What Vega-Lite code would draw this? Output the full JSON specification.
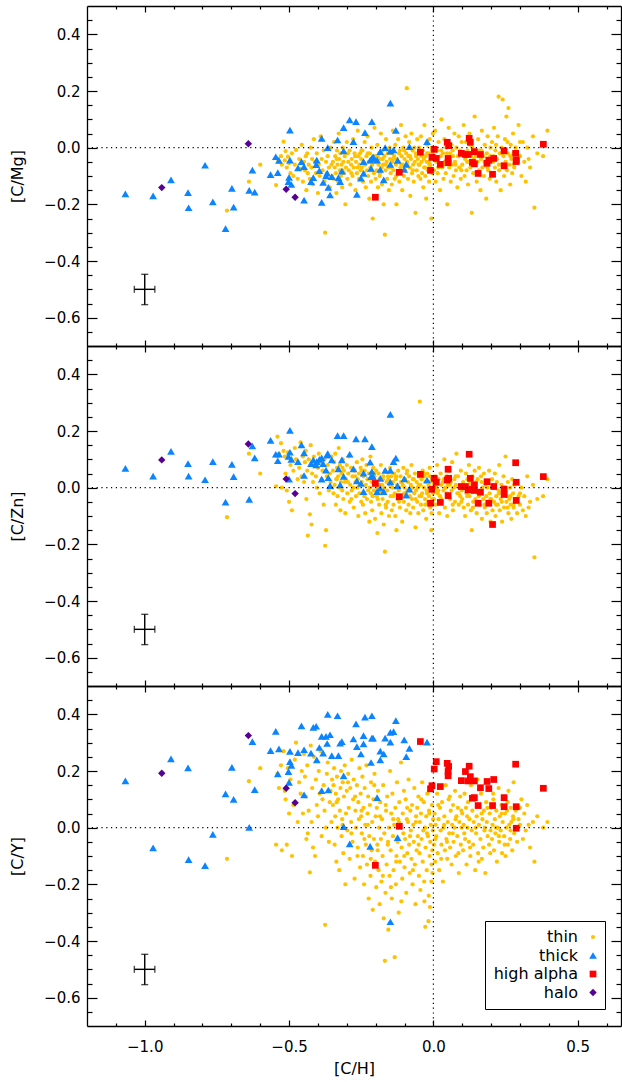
{
"$schema":"https://vega.github.io/schema/vega-lite/v6.json",
"autosize":{"type":"pad"},
"padding":{"left":9,"top":5,"right":1,"bottom":5},
"background":"white",
"datasets":{
"ebar":[{"ex":-1.0,"ey":-0.5,"xlo":-1.036,"xhi":-0.965,"ylo":-0.554,"yhi":-0.447}],
"zero":[{"v":0}],
"stars":[
{"pop":"thin","ch":-0.715,"cmg":-0.222,"czn":-0.104,"cy":-0.110},
{"pop":"thin","ch":-0.639,"cmg":-0.120,"czn":0.120,"cy":0.164},
{"pop":"thin","ch":-0.600,"cmg":-0.060,"czn":0.050,"cy":0.210},
{"pop":"thin","ch":-0.545,"cmg":-0.132,"czn":0.005,"cy":-0.060},
{"pop":"thin","ch":-0.540,"cmg":-0.040,"czn":0.180,"cy":0.190},
{"pop":"thin","ch":-0.535,"cmg":-0.050,"czn":0.120,"cy":0.140},
{"pop":"thin","ch":-0.528,"cmg":-0.030,"czn":0.157,"cy":0.220},
{"pop":"thin","ch":-0.525,"cmg":-0.060,"czn":0.000,"cy":-0.080},
{"pop":"thin","ch":-0.519,"cmg":0.021,"czn":0.130,"cy":0.270},
{"pop":"thin","ch":-0.515,"cmg":-0.045,"czn":0.110,"cy":0.130},
{"pop":"thin","ch":-0.512,"cmg":-0.012,"czn":0.050,"cy":0.100},
{"pop":"thin","ch":-0.508,"cmg":-0.070,"czn":-0.010,"cy":-0.060},
{"pop":"thin","ch":-0.504,"cmg":-0.032,"czn":0.125,"cy":0.210},
{"pop":"thin","ch":-0.500,"cmg":-0.055,"czn":-0.050,"cy":0.050},
{"pop":"thin","ch":-0.495,"cmg":-0.090,"czn":0.080,"cy":0.170},
{"pop":"thin","ch":-0.490,"cmg":-0.020,"czn":-0.080,"cy":-0.100},
{"pop":"thin","ch":-0.485,"cmg":-0.100,"czn":0.060,"cy":0.080},
{"pop":"thin","ch":-0.480,"cmg":-0.060,"czn":0.140,"cy":0.240},
{"pop":"thin","ch":-0.476,"cmg":-0.008,"czn":0.100,"cy":0.300},
{"pop":"thin","ch":-0.470,"cmg":-0.110,"czn":0.030,"cy":0.020},
{"pop":"thin","ch":-0.465,"cmg":-0.040,"czn":0.070,"cy":0.160},
{"pop":"thin","ch":-0.460,"cmg":-0.075,"czn":0.160,"cy":0.120},
{"pop":"thin","ch":-0.456,"cmg":0.010,"czn":0.040,"cy":0.200},
{"pop":"thin","ch":-0.452,"cmg":-0.120,"czn":0.110,"cy":0.050},
{"pop":"thin","ch":-0.448,"cmg":-0.050,"czn":0.020,"cy":0.260},
{"pop":"thin","ch":-0.445,"cmg":-0.080,"czn":0.090,"cy":0.180},
{"pop":"thin","ch":-0.442,"cmg":-0.030,"czn":0.130,"cy":0.110},
{"pop":"thin","ch":-0.440,"cmg":-0.150,"czn":-0.040,"cy":-0.040},
{"pop":"thin","ch":-0.437,"cmg":-0.020,"czn":0.060,"cy":0.220},
{"pop":"thin","ch":-0.435,"cmg":-0.090,"czn":-0.169,"cy":-0.020},
{"pop":"thin","ch":-0.432,"cmg":-0.060,"czn":0.100,"cy":0.060},
{"pop":"thin","ch":-0.428,"cmg":-0.110,"czn":-0.094,"cy":-0.158},
{"pop":"thin","ch":-0.425,"cmg":0.000,"czn":0.150,"cy":0.290},
{"pop":"thin","ch":-0.422,"cmg":-0.070,"czn":-0.130,"cy":0.020},
{"pop":"thin","ch":-0.420,"cmg":-0.040,"czn":0.050,"cy":0.140},
{"pop":"thin","ch":-0.417,"cmg":-0.130,"czn":0.020,"cy":-0.070},
{"pop":"thin","ch":-0.414,"cmg":0.030,"czn":0.110,"cy":0.250},
{"pop":"thin","ch":-0.410,"cmg":-0.050,"czn":0.080,"cy":-0.100},
{"pop":"thin","ch":-0.407,"cmg":-0.090,"czn":0.040,"cy":0.170},
{"pop":"thin","ch":-0.404,"cmg":-0.020,"czn":0.000,"cy":0.080},
{"pop":"thin","ch":-0.400,"cmg":-0.160,"czn":0.070,"cy":0.040},
{"pop":"thin","ch":-0.397,"cmg":-0.060,"czn":0.120,"cy":0.200},
{"pop":"thin","ch":-0.394,"cmg":-0.100,"czn":-0.020,"cy":0.120},
{"pop":"thin","ch":-0.390,"cmg":0.040,"czn":0.090,"cy":0.270},
{"pop":"thin","ch":-0.387,"cmg":-0.040,"czn":0.030,"cy":-0.030},
{"pop":"thin","ch":-0.384,"cmg":-0.080,"czn":0.060,"cy":0.100},
{"pop":"thin","ch":-0.380,"cmg":-0.010,"czn":-0.060,"cy":0.150},
{"pop":"thin","ch":-0.377,"cmg":-0.120,"czn":0.100,"cy":0.060},
{"pop":"thin","ch":-0.375,"cmg":-0.300,"czn":-0.205,"cy":-0.343},
{"pop":"thin","ch":-0.372,"cmg":-0.050,"czn":-0.150,"cy":0.000},
{"pop":"thin","ch":-0.369,"cmg":-0.090,"czn":0.040,"cy":0.190},
{"pop":"thin","ch":-0.366,"cmg":-0.030,"czn":0.080,"cy":0.230},
{"pop":"thin","ch":-0.362,"cmg":-0.070,"czn":-0.010,"cy":-0.050},
{"pop":"thin","ch":-0.359,"cmg":-0.140,"czn":0.050,"cy":0.090},
{"pop":"thin","ch":-0.356,"cmg":0.000,"czn":0.020,"cy":0.130},
{"pop":"thin","ch":-0.353,"cmg":-0.060,"czn":0.110,"cy":0.020},
{"pop":"thin","ch":-0.351,"cmg":-0.100,"czn":0.000,"cy":0.170},
{"pop":"thin","ch":-0.348,"cmg":-0.050,"czn":0.060,"cy":0.080},
{"pop":"thin","ch":-0.346,"cmg":-0.110,"czn":-0.020,"cy":0.150},
{"pop":"thin","ch":-0.344,"cmg":0.020,"czn":0.090,"cy":0.210},
{"pop":"thin","ch":-0.342,"cmg":-0.070,"czn":0.010,"cy":-0.060},
{"pop":"thin","ch":-0.340,"cmg":-0.030,"czn":0.120,"cy":0.040},
{"pop":"thin","ch":-0.338,"cmg":-0.090,"czn":-0.060,"cy":0.120},
{"pop":"thin","ch":-0.336,"cmg":-0.160,"czn":0.030,"cy":-0.120},
{"pop":"thin","ch":-0.334,"cmg":-0.010,"czn":0.070,"cy":0.180},
{"pop":"thin","ch":-0.332,"cmg":-0.060,"czn":-0.030,"cy":0.000},
{"pop":"thin","ch":-0.330,"cmg":-0.120,"czn":0.040,"cy":0.100},
{"pop":"thin","ch":-0.328,"cmg":0.050,"czn":0.140,"cy":0.250},
{"pop":"thin","ch":-0.326,"cmg":-0.040,"czn":0.000,"cy":-0.150},
{"pop":"thin","ch":-0.324,"cmg":-0.080,"czn":0.080,"cy":0.060},
{"pop":"thin","ch":-0.322,"cmg":-0.020,"czn":-0.080,"cy":0.140},
{"pop":"thin","ch":-0.320,"cmg":-0.100,"czn":0.020,"cy":0.200},
{"pop":"thin","ch":-0.318,"cmg":-0.060,"czn":0.050,"cy":-0.030},
{"pop":"thin","ch":-0.316,"cmg":-0.140,"czn":-0.010,"cy":0.030},
{"pop":"thin","ch":-0.314,"cmg":0.000,"czn":0.100,"cy":0.160},
{"pop":"thin","ch":-0.312,"cmg":-0.050,"czn":-0.040,"cy":-0.090},
{"pop":"thin","ch":-0.310,"cmg":-0.090,"czn":0.060,"cy":0.110},
{"pop":"thin","ch":-0.307,"cmg":-0.030,"czn":0.020,"cy":0.220},
{"pop":"thin","ch":-0.305,"cmg":-0.200,"czn":-0.090,"cy":-0.200},
{"pop":"thin","ch":-0.303,"cmg":-0.070,"czn":0.030,"cy":0.050},
{"pop":"thin","ch":-0.300,"cmg":0.020,"czn":0.080,"cy":0.130},
{"pop":"thin","ch":-0.298,"cmg":-0.110,"czn":-0.020,"cy":-0.010},
{"pop":"thin","ch":-0.295,"cmg":-0.050,"czn":0.050,"cy":0.190},
{"pop":"thin","ch":-0.293,"cmg":-0.080,"czn":0.110,"cy":0.070},
{"pop":"thin","ch":-0.290,"cmg":-0.010,"czn":-0.050,"cy":-0.110},
{"pop":"thin","ch":-0.288,"cmg":-0.130,"czn":0.010,"cy":0.140},
{"pop":"thin","ch":-0.285,"cmg":-0.060,"czn":0.070,"cy":0.020},
{"pop":"thin","ch":-0.283,"cmg":-0.040,"czn":-0.010,"cy":0.240},
{"pop":"thin","ch":-0.280,"cmg":-0.100,"czn":0.040,"cy":-0.050},
{"pop":"thin","ch":-0.278,"cmg":0.030,"czn":0.000,"cy":0.100},
{"pop":"thin","ch":-0.276,"cmg":-0.070,"czn":-0.070,"cy":0.170},
{"pop":"thin","ch":-0.273,"cmg":-0.020,"czn":0.060,"cy":-0.180},
{"pop":"thin","ch":-0.270,"cmg":-0.150,"czn":0.020,"cy":0.060},
{"pop":"thin","ch":-0.268,"cmg":-0.050,"czn":-0.030,"cy":0.000},
{"pop":"thin","ch":-0.265,"cmg":-0.090,"czn":0.090,"cy":0.150},
{"pop":"thin","ch":-0.262,"cmg":0.060,"czn":0.030,"cy":-0.070},
{"pop":"thin","ch":-0.260,"cmg":-0.030,"czn":-0.100,"cy":0.090},
{"pop":"thin","ch":-0.258,"cmg":-0.110,"czn":0.050,"cy":0.030},
{"pop":"thin","ch":-0.256,"cmg":-0.060,"czn":-0.020,"cy":0.210},
{"pop":"thin","ch":-0.254,"cmg":-0.020,"czn":0.010,"cy":-0.140},
{"pop":"thin","ch":-0.252,"cmg":-0.080,"czn":0.070,"cy":0.120},
{"pop":"thin","ch":-0.250,"cmg":-0.040,"czn":-0.050,"cy":0.040},
{"pop":"thin","ch":-0.248,"cmg":-0.070,"czn":0.020,"cy":-0.020},
{"pop":"thin","ch":-0.246,"cmg":-0.010,"czn":0.100,"cy":0.180},
{"pop":"thin","ch":-0.244,"cmg":-0.120,"czn":-0.060,"cy":-0.100},
{"pop":"thin","ch":-0.242,"cmg":-0.050,"czn":0.040,"cy":0.070},
{"pop":"thin","ch":-0.240,"cmg":-0.090,"czn":-0.020,"cy":-0.200},
{"pop":"thin","ch":-0.238,"cmg":0.020,"czn":0.060,"cy":0.140},
{"pop":"thin","ch":-0.236,"cmg":-0.060,"czn":-0.090,"cy":0.010},
{"pop":"thin","ch":-0.234,"cmg":-0.140,"czn":0.010,"cy":-0.060},
{"pop":"thin","ch":-0.232,"cmg":-0.030,"czn":0.080,"cy":0.220},
{"pop":"thin","ch":-0.230,"cmg":-0.080,"czn":-0.040,"cy":-0.130},
{"pop":"thin","ch":-0.228,"cmg":0.040,"czn":0.030,"cy":0.050},
{"pop":"thin","ch":-0.226,"cmg":-0.100,"czn":-0.010,"cy":0.110},
{"pop":"thin","ch":-0.224,"cmg":-0.050,"czn":0.050,"cy":-0.250},
{"pop":"thin","ch":-0.222,"cmg":-0.180,"czn":-0.120,"cy":-0.030},
{"pop":"thin","ch":-0.220,"cmg":-0.020,"czn":0.000,"cy":0.080},
{"pop":"thin","ch":-0.218,"cmg":-0.070,"czn":0.110,"cy":-0.170},
{"pop":"thin","ch":-0.216,"cmg":-0.120,"czn":-0.050,"cy":0.160},
{"pop":"thin","ch":-0.214,"cmg":0.000,"czn":0.020,"cy":-0.080},
{"pop":"thin","ch":-0.212,"cmg":-0.060,"czn":-0.080,"cy":0.020},
{"pop":"thin","ch":-0.210,"cmg":-0.250,"czn":-0.030,"cy":-0.290},
{"pop":"thin","ch":-0.208,"cmg":-0.040,"czn":0.070,"cy":0.100},
{"pop":"thin","ch":-0.206,"cmg":-0.090,"czn":-0.010,"cy":-0.040},
{"pop":"thin","ch":-0.204,"cmg":0.070,"czn":0.040,"cy":0.190},
{"pop":"thin","ch":-0.202,"cmg":-0.030,"czn":-0.110,"cy":-0.120},
{"pop":"thin","ch":-0.200,"cmg":-0.110,"czn":0.010,"cy":0.040},
{"pop":"thin","ch":-0.198,"cmg":-0.050,"czn":0.060,"cy":-0.210},
{"pop":"thin","ch":-0.196,"cmg":-0.080,"czn":-0.030,"cy":0.070},
{"pop":"thin","ch":-0.194,"cmg":0.010,"czn":-0.160,"cy":-0.060},
{"pop":"thin","ch":-0.192,"cmg":-0.140,"czn":0.000,"cy":0.130},
{"pop":"thin","ch":-0.190,"cmg":-0.060,"czn":0.050,"cy":-0.150},
{"pop":"thin","ch":-0.188,"cmg":-0.020,"czn":-0.060,"cy":0.000},
{"pop":"thin","ch":-0.186,"cmg":-0.100,"czn":0.030,"cy":-0.270},
{"pop":"thin","ch":-0.184,"cmg":-0.040,"czn":-0.020,"cy":0.090},
{"pop":"thin","ch":-0.182,"cmg":0.050,"czn":0.080,"cy":-0.040},
{"pop":"thin","ch":-0.180,"cmg":-0.070,"czn":-0.090,"cy":-0.190},
{"pop":"thin","ch":-0.178,"cmg":-0.130,"czn":0.010,"cy":0.030},
{"pop":"thin","ch":-0.176,"cmg":-0.010,"czn":-0.040,"cy":-0.100},
{"pop":"thin","ch":-0.174,"cmg":-0.060,"czn":0.040,"cy":0.150},
{"pop":"thin","ch":-0.172,"cmg":-0.200,"czn":-0.130,"cy":-0.320},
{"pop":"thin","ch":-0.170,"cmg":-0.030,"czn":0.000,"cy":-0.020},
{"pop":"thin","ch":-0.168,"cmg":-0.307,"czn":-0.226,"cy":-0.470},
{"pop":"thin","ch":-0.166,"cmg":-0.080,"czn":0.060,"cy":-0.230},
{"pop":"thin","ch":-0.164,"cmg":0.030,"czn":-0.070,"cy":0.060},
{"pop":"thin","ch":-0.162,"cmg":-0.050,"czn":0.020,"cy":-0.130},
{"pop":"thin","ch":-0.160,"cmg":-0.110,"czn":-0.010,"cy":0.110},
{"pop":"thin","ch":-0.158,"cmg":-0.020,"czn":-0.050,"cy":-0.060},
{"pop":"thin","ch":-0.156,"cmg":-0.070,"czn":0.030,"cy":-0.360},
{"pop":"thin","ch":-0.154,"cmg":-0.150,"czn":-0.100,"cy":0.000},
{"pop":"thin","ch":-0.152,"cmg":0.000,"czn":0.010,"cy":-0.170},
{"pop":"thin","ch":-0.150,"cmg":-0.040,"czn":0.070,"cy":0.200},
{"pop":"thin","ch":-0.148,"cmg":-0.090,"czn":-0.030,"cy":-0.080},
{"pop":"thin","ch":-0.146,"cmg":-0.020,"czn":0.040,"cy":0.050},
{"pop":"thin","ch":-0.144,"cmg":-0.130,"czn":-0.080,"cy":-0.250},
{"pop":"thin","ch":-0.142,"cmg":-0.050,"czn":0.000,"cy":0.120},
{"pop":"thin","ch":-0.140,"cmg":0.060,"czn":0.020,"cy":-0.030},
{"pop":"thin","ch":-0.138,"cmg":-0.080,"czn":-0.060,"cy":-0.150},
{"pop":"thin","ch":-0.136,"cmg":-0.030,"czn":0.050,"cy":0.010},
{"pop":"thin","ch":-0.134,"cmg":-0.110,"czn":-0.020,"cy":-0.457},
{"pop":"thin","ch":-0.132,"cmg":0.010,"czn":-0.100,"cy":0.070},
{"pop":"thin","ch":-0.130,"cmg":-0.060,"czn":0.030,"cy":-0.200},
{"pop":"thin","ch":-0.128,"cmg":-0.200,"czn":-0.150,"cy":-0.100},
{"pop":"thin","ch":-0.126,"cmg":-0.040,"czn":0.010,"cy":0.160},
{"pop":"thin","ch":-0.124,"cmg":-0.090,"czn":-0.040,"cy":-0.050},
{"pop":"thin","ch":-0.122,"cmg":0.030,"czn":0.060,"cy":0.030},
{"pop":"thin","ch":-0.120,"cmg":-0.050,"czn":-0.010,"cy":-0.300},
{"pop":"thin","ch":-0.118,"cmg":-0.120,"czn":0.000,"cy":0.090},
{"pop":"thin","ch":-0.116,"cmg":-0.010,"czn":-0.070,"cy":-0.120},
{"pop":"thin","ch":-0.114,"cmg":-0.070,"czn":0.040,"cy":0.000},
{"pop":"thin","ch":-0.112,"cmg":0.080,"czn":0.020,"cy":0.230},
{"pop":"thin","ch":-0.110,"cmg":-0.030,"czn":-0.030,"cy":-0.070},
{"pop":"thin","ch":-0.108,"cmg":-0.150,"czn":-0.120,"cy":-0.180},
{"pop":"thin","ch":-0.106,"cmg":-0.060,"czn":0.010,"cy":0.050},
{"pop":"thin","ch":-0.104,"cmg":0.000,"czn":0.070,"cy":-0.020},
{"pop":"thin","ch":-0.102,"cmg":-0.100,"czn":-0.050,"cy":0.130},
{"pop":"thin","ch":-0.100,"cmg":-0.040,"czn":0.000,"cy":-0.140},
{"pop":"thin","ch":-0.098,"cmg":-0.080,"czn":0.030,"cy":-0.040},
{"pop":"thin","ch":-0.096,"cmg":0.040,"czn":-0.020,"cy":0.100},
{"pop":"thin","ch":-0.094,"cmg":-0.020,"czn":-0.080,"cy":-0.230},
{"pop":"thin","ch":-0.092,"cmg":0.210,"czn":0.050,"cy":0.030},
{"pop":"thin","ch":-0.090,"cmg":-0.060,"czn":-0.010,"cy":-0.090},
{"pop":"thin","ch":-0.088,"cmg":-0.110,"czn":0.020,"cy":0.020},
{"pop":"thin","ch":-0.086,"cmg":-0.030,"czn":-0.060,"cy":0.170},
{"pop":"thin","ch":-0.084,"cmg":0.020,"czn":0.040,"cy":-0.060},
{"pop":"thin","ch":-0.082,"cmg":-0.070,"czn":-0.030,"cy":-0.160},
{"pop":"thin","ch":-0.080,"cmg":-0.170,"czn":-0.090,"cy":0.060},
{"pop":"thin","ch":-0.078,"cmg":-0.040,"czn":0.010,"cy":-0.010},
{"pop":"thin","ch":-0.076,"cmg":0.050,"czn":0.080,"cy":-0.110},
{"pop":"thin","ch":-0.074,"cmg":-0.090,"czn":-0.040,"cy":0.080},
{"pop":"thin","ch":-0.072,"cmg":-0.010,"czn":0.000,"cy":-0.200},
{"pop":"thin","ch":-0.070,"cmg":-0.060,"czn":-0.070,"cy":0.010},
{"pop":"thin","ch":-0.068,"cmg":-0.120,"czn":0.030,"cy":-0.050},
{"pop":"thin","ch":-0.066,"cmg":0.000,"czn":-0.020,"cy":0.140},
{"pop":"thin","ch":-0.064,"cmg":-0.050,"czn":0.050,"cy":-0.130},
{"pop":"thin","ch":-0.062,"cmg":-0.230,"czn":-0.140,"cy":-0.270},
{"pop":"thin","ch":-0.060,"cmg":-0.030,"czn":-0.010,"cy":0.040},
{"pop":"thin","ch":-0.058,"cmg":-0.080,"czn":0.020,"cy":-0.080},
{"pop":"thin","ch":-0.056,"cmg":0.030,"czn":-0.050,"cy":0.070},
{"pop":"thin","ch":-0.054,"cmg":-0.040,"czn":0.000,"cy":-0.030},
{"pop":"thin","ch":-0.052,"cmg":-0.100,"czn":-0.090,"cy":0.110},
{"pop":"thin","ch":-0.050,"cmg":0.000,"czn":0.040,"cy":-0.170},
{"pop":"thin","ch":-0.048,"cmg":-0.060,"czn":-0.030,"cy":-0.090},
{"pop":"thin","ch":-0.047,"cmg":-0.020,"czn":0.304,"cy":0.020},
{"pop":"thin","ch":-0.045,"cmg":-0.110,"czn":0.010,"cy":-0.220},
{"pop":"thin","ch":-0.043,"cmg":0.040,"czn":-0.060,"cy":0.050},
{"pop":"thin","ch":-0.041,"cmg":-0.050,"czn":0.030,"cy":-0.040},
{"pop":"thin","ch":-0.039,"cmg":-0.090,"czn":-0.020,"cy":0.160},
{"pop":"thin","ch":-0.037,"cmg":-0.010,"czn":0.060,"cy":-0.120},
{"pop":"thin","ch":-0.035,"cmg":-0.140,"czn":-0.080,"cy":-0.010},
{"pop":"thin","ch":-0.033,"cmg":-0.040,"czn":0.000,"cy":0.090},
{"pop":"thin","ch":-0.031,"cmg":0.080,"czn":0.040,"cy":-0.260},
{"pop":"thin","ch":-0.029,"cmg":-0.070,"czn":-0.040,"cy":0.000},
{"pop":"thin","ch":-0.027,"cmg":-0.030,"czn":0.020,"cy":-0.070},
{"pop":"thin","ch":-0.025,"cmg":-0.180,"czn":-0.110,"cy":0.040},
{"pop":"thin","ch":-0.023,"cmg":-0.050,"czn":-0.010,"cy":-0.150},
{"pop":"thin","ch":-0.021,"cmg":0.010,"czn":0.050,"cy":0.120},
{"pop":"thin","ch":-0.019,"cmg":-0.080,"czn":-0.050,"cy":-0.030},
{"pop":"thin","ch":-0.017,"cmg":-0.020,"czn":0.010,"cy":-0.330},
{"pop":"thin","ch":-0.015,"cmg":-0.120,"czn":-0.030,"cy":0.060},
{"pop":"thin","ch":-0.013,"cmg":0.030,"czn":0.070,"cy":-0.100},
{"pop":"thin","ch":-0.011,"cmg":-0.060,"czn":-0.070,"cy":-0.050},
{"pop":"thin","ch":-0.009,"cmg":-0.040,"czn":0.000,"cy":0.010},
{"pop":"thin","ch":-0.007,"cmg":-0.250,"czn":-0.150,"cy":-0.190},
{"pop":"thin","ch":-0.005,"cmg":-0.010,"czn":0.030,"cy":0.080},
{"pop":"thin","ch":-0.004,"cmg":-0.090,"czn":-0.040,"cy":-0.080},
{"pop":"thin","ch":-0.002,"cmg":0.050,"czn":0.020,"cy":-0.010},
{"pop":"thin","ch":-0.001,"cmg":-0.030,"czn":-0.020,"cy":0.030},
{"pop":"thin","ch":-0.012,"cmg":-0.070,"czn":0.040,"cy":-0.280},
{"pop":"thin","ch":-0.028,"cmg":-0.100,"czn":-0.060,"cy":-0.350},
{"pop":"thin","ch":-0.016,"cmg":-0.050,"czn":0.000,"cy":-0.240},
{"pop":"thin","ch":-0.006,"cmg":0.000,"czn":-0.090,"cy":-0.130},
{"pop":"thin","ch":0.002,"cmg":-0.080,"czn":-0.040,"cy":-0.060},
{"pop":"thin","ch":0.004,"cmg":-0.030,"czn":0.010,"cy":0.050},
{"pop":"thin","ch":0.006,"cmg":0.060,"czn":0.040,"cy":-0.120},
{"pop":"thin","ch":0.008,"cmg":-0.120,"czn":-0.060,"cy":0.010},
{"pop":"thin","ch":0.010,"cmg":-0.050,"czn":0.000,"cy":-0.030},
{"pop":"thin","ch":0.013,"cmg":-0.010,"czn":0.080,"cy":0.120},
{"pop":"thin","ch":0.015,"cmg":-0.090,"czn":-0.020,"cy":-0.090},
{"pop":"thin","ch":0.018,"cmg":0.020,"czn":0.030,"cy":0.030},
{"pop":"thin","ch":0.020,"cmg":-0.060,"czn":-0.090,"cy":-0.150},
{"pop":"thin","ch":0.023,"cmg":-0.150,"czn":-0.030,"cy":0.070},
{"pop":"thin","ch":0.025,"cmg":-0.030,"czn":0.050,"cy":-0.010},
{"pop":"thin","ch":0.028,"cmg":0.100,"czn":0.010,"cy":-0.060},
{"pop":"thin","ch":0.030,"cmg":-0.070,"czn":-0.050,"cy":0.090},
{"pop":"thin","ch":0.033,"cmg":-0.020,"czn":0.020,"cy":-0.190},
{"pop":"thin","ch":0.035,"cmg":-0.110,"czn":-0.010,"cy":0.000},
{"pop":"thin","ch":0.038,"cmg":0.030,"czn":0.100,"cy":0.040},
{"pop":"thin","ch":0.040,"cmg":-0.050,"czn":-0.070,"cy":-0.080},
{"pop":"thin","ch":0.043,"cmg":-0.090,"czn":0.000,"cy":0.150},
{"pop":"thin","ch":0.045,"cmg":0.000,"czn":0.040,"cy":-0.040},
{"pop":"thin","ch":0.048,"cmg":-0.200,"czn":-0.100,"cy":-0.110},
{"pop":"thin","ch":0.050,"cmg":-0.040,"czn":0.010,"cy":0.020},
{"pop":"thin","ch":0.053,"cmg":0.070,"czn":-0.030,"cy":0.100},
{"pop":"thin","ch":0.055,"cmg":-0.070,"czn":0.060,"cy":-0.020},
{"pop":"thin","ch":0.058,"cmg":-0.020,"czn":-0.040,"cy":-0.070},
{"pop":"thin","ch":0.060,"cmg":-0.120,"czn":0.020,"cy":0.060},
{"pop":"thin","ch":0.063,"cmg":0.010,"czn":-0.010,"cy":-0.130},
{"pop":"thin","ch":0.065,"cmg":-0.060,"czn":0.090,"cy":0.010},
{"pop":"thin","ch":0.068,"cmg":-0.030,"czn":-0.080,"cy":0.080},
{"pop":"thin","ch":0.070,"cmg":-0.100,"czn":0.000,"cy":-0.050},
{"pop":"thin","ch":0.073,"cmg":0.050,"czn":0.030,"cy":0.000},
{"pop":"thin","ch":0.075,"cmg":-0.050,"czn":-0.050,"cy":0.130},
{"pop":"thin","ch":0.078,"cmg":-0.080,"czn":0.010,"cy":-0.100},
{"pop":"thin","ch":0.080,"cmg":0.000,"czn":0.120,"cy":0.040},
{"pop":"thin","ch":0.083,"cmg":-0.140,"czn":-0.020,"cy":-0.030},
{"pop":"thin","ch":0.085,"cmg":-0.030,"czn":0.040,"cy":0.070},
{"pop":"thin","ch":0.088,"cmg":0.040,"czn":-0.060,"cy":-0.160},
{"pop":"thin","ch":0.090,"cmg":-0.070,"czn":0.000,"cy":0.020},
{"pop":"thin","ch":0.093,"cmg":-0.010,"czn":-0.030,"cy":0.110},
{"pop":"thin","ch":0.095,"cmg":-0.110,"czn":0.060,"cy":-0.060},
{"pop":"thin","ch":0.098,"cmg":0.020,"czn":-0.010,"cy":0.000},
{"pop":"thin","ch":0.100,"cmg":-0.060,"czn":-0.040,"cy":0.050},
{"pop":"thin","ch":0.103,"cmg":-0.020,"czn":0.020,"cy":-0.080},
{"pop":"thin","ch":0.105,"cmg":0.080,"czn":-0.070,"cy":0.010},
{"pop":"thin","ch":0.108,"cmg":-0.100,"czn":0.000,"cy":0.120},
{"pop":"thin","ch":0.110,"cmg":-0.040,"czn":-0.100,"cy":-0.040},
{"pop":"thin","ch":0.113,"cmg":0.020,"czn":0.050,"cy":0.070},
{"pop":"thin","ch":0.115,"cmg":-0.080,"czn":-0.020,"cy":-0.130},
{"pop":"thin","ch":0.118,"cmg":-0.010,"czn":0.030,"cy":0.000},
{"pop":"thin","ch":0.120,"cmg":-0.130,"czn":-0.060,"cy":0.090},
{"pop":"thin","ch":0.123,"cmg":-0.050,"czn":0.080,"cy":-0.050},
{"pop":"thin","ch":0.125,"cmg":0.050,"czn":-0.030,"cy":0.030},
{"pop":"thin","ch":0.128,"cmg":-0.070,"czn":0.010,"cy":-0.100},
{"pop":"thin","ch":0.130,"cmg":-0.030,"czn":-0.080,"cy":0.150},
{"pop":"thin","ch":0.133,"cmg":-0.230,"czn":-0.150,"cy":-0.010},
{"pop":"thin","ch":0.135,"cmg":0.000,"czn":0.040,"cy":0.060},
{"pop":"thin","ch":0.138,"cmg":-0.090,"czn":-0.050,"cy":-0.060},
{"pop":"thin","ch":0.140,"cmg":-0.040,"czn":0.000,"cy":0.020},
{"pop":"thin","ch":0.143,"cmg":0.110,"czn":0.060,"cy":0.100},
{"pop":"thin","ch":0.145,"cmg":-0.060,"czn":-0.040,"cy":-0.150},
{"pop":"thin","ch":0.148,"cmg":-0.020,"czn":0.020,"cy":-0.020},
{"pop":"thin","ch":0.150,"cmg":-0.120,"czn":-0.090,"cy":0.040},
{"pop":"thin","ch":0.153,"cmg":-0.050,"czn":0.030,"cy":0.170},
{"pop":"thin","ch":0.155,"cmg":0.030,"czn":-0.020,"cy":-0.090},
{"pop":"thin","ch":0.158,"cmg":-0.080,"czn":0.070,"cy":0.010},
{"pop":"thin","ch":0.160,"cmg":-0.010,"czn":-0.060,"cy":0.080},
{"pop":"thin","ch":0.163,"cmg":-0.150,"czn":-0.010,"cy":-0.040},
{"pop":"thin","ch":0.165,"cmg":-0.040,"czn":0.040,"cy":0.120},
{"pop":"thin","ch":0.168,"cmg":0.060,"czn":-0.110,"cy":-0.110},
{"pop":"thin","ch":0.170,"cmg":-0.070,"czn":0.000,"cy":0.030},
{"pop":"thin","ch":0.173,"cmg":-0.030,"czn":-0.040,"cy":-0.070},
{"pop":"thin","ch":0.175,"cmg":-0.100,"czn":0.050,"cy":0.060},
{"pop":"thin","ch":0.178,"cmg":0.010,"czn":-0.070,"cy":0.000},
{"pop":"thin","ch":0.180,"cmg":-0.060,"czn":0.010,"cy":-0.160},
{"pop":"thin","ch":0.183,"cmg":-0.180,"czn":-0.030,"cy":0.090},
{"pop":"thin","ch":0.185,"cmg":-0.020,"czn":-0.090,"cy":0.020},
{"pop":"thin","ch":0.188,"cmg":0.040,"czn":0.020,"cy":-0.030},
{"pop":"thin","ch":0.190,"cmg":-0.080,"czn":-0.050,"cy":0.140},
{"pop":"thin","ch":0.193,"cmg":-0.040,"czn":0.060,"cy":-0.060},
{"pop":"thin","ch":0.195,"cmg":-0.110,"czn":-0.020,"cy":0.050},
{"pop":"thin","ch":0.198,"cmg":0.000,"czn":-0.120,"cy":-0.010},
{"pop":"thin","ch":0.200,"cmg":-0.050,"czn":-0.040,"cy":0.070},
{"pop":"thin","ch":0.203,"cmg":0.020,"czn":0.030,"cy":-0.040},
{"pop":"thin","ch":0.205,"cmg":-0.090,"czn":-0.080,"cy":0.010},
{"pop":"thin","ch":0.208,"cmg":-0.030,"czn":0.000,"cy":0.100},
{"pop":"thin","ch":0.210,"cmg":0.070,"czn":-0.050,"cy":-0.080},
{"pop":"thin","ch":0.213,"cmg":-0.070,"czn":0.050,"cy":0.030},
{"pop":"thin","ch":0.215,"cmg":-0.010,"czn":-0.100,"cy":-0.020},
{"pop":"thin","ch":0.218,"cmg":-0.120,"czn":-0.030,"cy":0.060},
{"pop":"thin","ch":0.220,"cmg":-0.040,"czn":0.020,"cy":-0.120},
{"pop":"thin","ch":0.223,"cmg":0.040,"czn":-0.060,"cy":0.000},
{"pop":"thin","ch":0.226,"cmg":0.180,"czn":-0.010,"cy":0.140},
{"pop":"thin","ch":0.228,"cmg":-0.080,"czn":0.080,"cy":-0.050},
{"pop":"thin","ch":0.230,"cmg":-0.020,"czn":-0.080,"cy":0.040},
{"pop":"thin","ch":0.233,"cmg":-0.150,"czn":-0.040,"cy":-0.010},
{"pop":"thin","ch":0.236,"cmg":0.000,"czn":0.010,"cy":0.080},
{"pop":"thin","ch":0.238,"cmg":-0.060,"czn":-0.120,"cy":-0.090},
{"pop":"thin","ch":0.240,"cmg":0.170,"czn":-0.020,"cy":0.020},
{"pop":"thin","ch":0.243,"cmg":-0.030,"czn":0.040,"cy":0.110},
{"pop":"thin","ch":0.245,"cmg":-0.100,"czn":-0.070,"cy":-0.030},
{"pop":"thin","ch":0.248,"cmg":0.030,"czn":-0.010,"cy":0.050},
{"pop":"thin","ch":0.250,"cmg":-0.050,"czn":0.110,"cy":-0.100},
{"pop":"thin","ch":0.253,"cmg":0.110,"czn":-0.050,"cy":0.000},
{"pop":"thin","ch":0.255,"cmg":-0.080,"czn":-0.030,"cy":0.060},
{"pop":"thin","ch":0.258,"cmg":-0.020,"czn":0.020,"cy":-0.060},
{"pop":"thin","ch":0.260,"cmg":0.140,"czn":-0.090,"cy":0.130},
{"pop":"thin","ch":0.263,"cmg":-0.060,"czn":-0.040,"cy":0.010},
{"pop":"thin","ch":0.266,"cmg":-0.130,"czn":0.000,"cy":-0.040},
{"pop":"thin","ch":0.268,"cmg":0.010,"czn":-0.060,"cy":0.070},
{"pop":"thin","ch":0.270,"cmg":-0.040,"czn":-0.110,"cy":0.020},
{"pop":"thin","ch":0.273,"cmg":-0.090,"czn":0.030,"cy":-0.080},
{"pop":"thin","ch":0.276,"cmg":0.050,"czn":-0.020,"cy":0.040},
{"pop":"thin","ch":0.278,"cmg":-0.020,"czn":-0.070,"cy":0.160},
{"pop":"thin","ch":0.280,"cmg":-0.070,"czn":0.010,"cy":-0.020},
{"pop":"thin","ch":0.285,"cmg":0.000,"czn":-0.050,"cy":0.060},
{"pop":"thin","ch":0.290,"cmg":-0.050,"czn":-0.090,"cy":-0.050},
{"pop":"thin","ch":0.295,"cmg":0.080,"czn":-0.030,"cy":0.030},
{"pop":"thin","ch":0.300,"cmg":-0.030,"czn":-0.060,"cy":0.010},
{"pop":"thin","ch":0.305,"cmg":-0.100,"czn":0.000,"cy":0.100},
{"pop":"thin","ch":0.310,"cmg":0.020,"czn":-0.080,"cy":-0.040},
{"pop":"thin","ch":0.315,"cmg":-0.050,"czn":-0.030,"cy":0.050},
{"pop":"thin","ch":0.320,"cmg":-0.120,"czn":-0.100,"cy":-0.010},
{"pop":"thin","ch":0.325,"cmg":0.000,"czn":0.040,"cy":0.080},
{"pop":"thin","ch":0.335,"cmg":-0.070,"czn":-0.050,"cy":-0.070},
{"pop":"thin","ch":0.345,"cmg":0.040,"czn":0.010,"cy":0.020},
{"pop":"thin","ch":0.350,"cmg":-0.212,"czn":-0.246,"cy":-0.120},
{"pop":"thin","ch":0.360,"cmg":-0.020,"czn":-0.040,"cy":0.040},
{"pop":"thin","ch":0.380,"cmg":-0.030,"czn":-0.030,"cy":0.000},
{"pop":"thin","ch":0.395,"cmg":0.060,"czn":0.030,"cy":0.020},
{"pop":"thin","ch":-0.335,"cmg":-0.040,"czn":0.030,"cy":0.090},
{"pop":"thin","ch":-0.315,"cmg":-0.080,"czn":0.070,"cy":0.010},
{"pop":"thin","ch":-0.296,"cmg":-0.020,"czn":0.020,"cy":0.160},
{"pop":"thin","ch":-0.284,"cmg":-0.090,"czn":-0.040,"cy":-0.020},
{"pop":"thin","ch":-0.271,"cmg":-0.030,"czn":0.040,"cy":0.110},
{"pop":"thin","ch":-0.263,"cmg":-0.070,"czn":0.000,"cy":-0.100},
{"pop":"thin","ch":-0.249,"cmg":-0.010,"czn":0.060,"cy":0.060},
{"pop":"thin","ch":-0.239,"cmg":-0.060,"czn":-0.030,"cy":-0.040},
{"pop":"thin","ch":-0.227,"cmg":-0.020,"czn":0.030,"cy":0.010},
{"pop":"thin","ch":-0.217,"cmg":-0.080,"czn":-0.020,"cy":-0.110},
{"pop":"thin","ch":-0.205,"cmg":-0.050,"czn":0.050,"cy":0.150},
{"pop":"thin","ch":-0.193,"cmg":-0.030,"czn":-0.040,"cy":-0.080},
{"pop":"thin","ch":-0.185,"cmg":-0.090,"czn":0.010,"cy":0.040},
{"pop":"thin","ch":-0.175,"cmg":-0.040,"czn":0.030,"cy":-0.170},
{"pop":"thin","ch":-0.165,"cmg":-0.060,"czn":-0.060,"cy":0.080},
{"pop":"thin","ch":-0.157,"cmg":-0.010,"czn":0.040,"cy":-0.050},
{"pop":"thin","ch":-0.147,"cmg":-0.070,"czn":0.010,"cy":-0.210},
{"pop":"thin","ch":-0.139,"cmg":-0.040,"czn":-0.030,"cy":0.030},
{"pop":"thin","ch":-0.129,"cmg":-0.100,"czn":0.040,"cy":-0.120},
{"pop":"thin","ch":-0.119,"cmg":-0.020,"czn":-0.050,"cy":0.020},
{"pop":"thin","ch":-0.111,"cmg":-0.060,"czn":0.020,"cy":-0.260},
{"pop":"thin","ch":-0.101,"cmg":-0.010,"czn":-0.020,"cy":-0.100},
{"pop":"thin","ch":-0.091,"cmg":-0.050,"czn":0.060,"cy":0.070},
{"pop":"thin","ch":-0.081,"cmg":-0.030,"czn":-0.010,"cy":-0.030},
{"pop":"thin","ch":-0.071,"cmg":-0.080,"czn":0.030,"cy":-0.150},
{"pop":"thin","ch":-0.061,"cmg":-0.020,"czn":-0.040,"cy":0.020},
{"pop":"thin","ch":-0.051,"cmg":-0.060,"czn":0.010,"cy":-0.060},
{"pop":"thin","ch":-0.042,"cmg":-0.030,"czn":-0.030,"cy":0.100},
{"pop":"thin","ch":-0.032,"cmg":-0.070,"czn":0.050,"cy":-0.190},
{"pop":"thin","ch":-0.022,"cmg":-0.020,"czn":-0.020,"cy":-0.020},
{"pop":"thin","ch":-0.014,"cmg":-0.060,"czn":0.020,"cy":0.050},
{"pop":"thin","ch":-0.003,"cmg":-0.020,"czn":-0.050,"cy":-0.160},
{"pop":"thin","ch":0.007,"cmg":-0.040,"czn":0.030,"cy":-0.040},
{"pop":"thin","ch":0.017,"cmg":-0.070,"czn":-0.010,"cy":0.080},
{"pop":"thin","ch":0.027,"cmg":-0.010,"czn":-0.040,"cy":-0.110},
{"pop":"thin","ch":0.037,"cmg":-0.060,"czn":0.030,"cy":0.010},
{"pop":"thin","ch":0.047,"cmg":-0.020,"czn":-0.020,"cy":-0.050},
{"pop":"thin","ch":0.057,"cmg":-0.050,"czn":0.010,"cy":0.110},
{"pop":"thin","ch":0.067,"cmg":-0.010,"czn":-0.060,"cy":-0.020},
{"pop":"thin","ch":0.077,"cmg":-0.060,"czn":0.040,"cy":0.030},
{"pop":"thin","ch":0.087,"cmg":-0.030,"czn":-0.020,"cy":-0.090},
{"pop":"thin","ch":0.097,"cmg":-0.080,"czn":-0.050,"cy":0.060},
{"pop":"thin","ch":0.107,"cmg":-0.020,"czn":0.010,"cy":-0.020},
{"pop":"thin","ch":0.117,"cmg":-0.050,"czn":-0.030,"cy":0.040},
{"pop":"thin","ch":0.127,"cmg":0.010,"czn":0.020,"cy":-0.070},
{"pop":"thin","ch":0.137,"cmg":-0.060,"czn":-0.070,"cy":0.110},
{"pop":"thin","ch":0.147,"cmg":-0.030,"czn":0.010,"cy":0.000},
{"pop":"thin","ch":0.157,"cmg":-0.090,"czn":-0.030,"cy":-0.120},
{"pop":"thin","ch":0.167,"cmg":-0.010,"czn":0.020,"cy":0.050},
{"pop":"thin","ch":0.177,"cmg":-0.050,"czn":-0.060,"cy":-0.010},
{"pop":"thin","ch":0.187,"cmg":-0.070,"czn":0.000,"cy":0.070},
{"pop":"thin","ch":0.197,"cmg":-0.030,"czn":-0.040,"cy":-0.090},
{"pop":"thin","ch":0.207,"cmg":-0.050,"czn":0.010,"cy":0.120},
{"pop":"thin","ch":0.217,"cmg":0.010,"czn":-0.060,"cy":0.000},
{"pop":"thin","ch":0.227,"cmg":-0.060,"czn":-0.020,"cy":-0.030},
{"pop":"thin","ch":0.237,"cmg":-0.020,"czn":-0.050,"cy":0.050},
{"pop":"thin","ch":0.247,"cmg":-0.070,"czn":0.000,"cy":-0.060},
{"pop":"thin","ch":0.257,"cmg":0.020,"czn":-0.070,"cy":0.090},
{"pop":"thin","ch":0.267,"cmg":-0.030,"czn":-0.030,"cy":-0.010},
{"pop":"thin","ch":0.277,"cmg":-0.060,"czn":-0.060,"cy":0.030},
{"pop":"thin","ch":0.300,"cmg":0.020,"czn":-0.020,"cy":0.070},
{"pop":"thin","ch":0.330,"cmg":-0.040,"czn":-0.070,"cy":0.010},
{"pop":"thick","ch":-1.067,"cmg":-0.163,"czn":0.068,"cy":0.165},
{"pop":"thick","ch":-0.971,"cmg":-0.170,"czn":0.041,"cy":-0.071},
{"pop":"thick","ch":-0.909,"cmg":-0.114,"czn":0.128,"cy":0.243},
{"pop":"thick","ch":-0.850,"cmg":-0.159,"czn":0.085,"cy":0.211},
{"pop":"thick","ch":-0.848,"cmg":-0.212,"czn":0.041,"cy":-0.113},
{"pop":"thick","ch":-0.791,"cmg":-0.062,"czn":0.028,"cy":-0.134},
{"pop":"thick","ch":-0.764,"cmg":-0.191,"czn":0.092,"cy":-0.024},
{"pop":"thick","ch":-0.720,"cmg":-0.286,"czn":-0.051,"cy":0.119},
{"pop":"thick","ch":-0.698,"cmg":-0.144,"czn":0.082,"cy":0.213},
{"pop":"thick","ch":-0.692,"cmg":-0.210,"czn":0.039,"cy":0.100},
{"pop":"thick","ch":-0.638,"cmg":-0.151,"czn":-0.041,"cy":0.001},
{"pop":"thick","ch":-0.627,"cmg":-0.079,"czn":0.147,"cy":0.304},
{"pop":"thick","ch":-0.619,"cmg":-0.157,"czn":0.105,"cy":0.134},
{"pop":"thick","ch":-0.564,"cmg":-0.095,"czn":0.167,"cy":0.272},
{"pop":"thick","ch":-0.546,"cmg":-0.032,"czn":0.118,"cy":0.340},
{"pop":"thick","ch":-0.539,"cmg":-0.088,"czn":0.095,"cy":0.190},
{"pop":"thick","ch":-0.535,"cmg":-0.045,"czn":0.118,"cy":0.278},
{"pop":"thick","ch":-0.502,"cmg":-0.120,"czn":0.110,"cy":0.198},
{"pop":"thick","ch":-0.497,"cmg":0.062,"czn":0.202,"cy":0.269},
{"pop":"thick","ch":-0.497,"cmg":-0.044,"czn":0.125,"cy":0.233},
{"pop":"thick","ch":-0.492,"cmg":-0.130,"czn":0.100,"cy":0.220},
{"pop":"thick","ch":-0.500,"cmg":-0.105,"czn":0.030,"cy":0.160},
{"pop":"thick","ch":-0.469,"cmg":-0.071,"czn":0.092,"cy":0.265},
{"pop":"thick","ch":-0.457,"cmg":-0.049,"czn":0.151,"cy":0.359},
{"pop":"thick","ch":-0.448,"cmg":-0.185,"czn":0.043,"cy":0.116},
{"pop":"thick","ch":-0.448,"cmg":-0.067,"czn":0.123,"cy":0.275},
{"pop":"thick","ch":-0.424,"cmg":-0.120,"czn":0.085,"cy":0.263},
{"pop":"thick","ch":-0.416,"cmg":-0.106,"czn":0.098,"cy":0.354},
{"pop":"thick","ch":-0.406,"cmg":-0.060,"czn":0.080,"cy":0.358},
{"pop":"thick","ch":-0.404,"cmg":-0.044,"czn":0.092,"cy":0.239},
{"pop":"thick","ch":-0.395,"cmg":-0.081,"czn":0.100,"cy":0.283},
{"pop":"thick","ch":-0.387,"cmg":0.033,"czn":0.105,"cy":0.322},
{"pop":"thick","ch":-0.387,"cmg":-0.193,"czn":0.030,"cy":0.131},
{"pop":"thick","ch":-0.382,"cmg":-0.123,"czn":0.085,"cy":0.263},
{"pop":"thick","ch":-0.368,"cmg":-0.090,"czn":0.115,"cy":0.297},
{"pop":"thick","ch":-0.366,"cmg":0.000,"czn":0.120,"cy":0.400},
{"pop":"thick","ch":-0.364,"cmg":-0.140,"czn":0.035,"cy":0.133},
{"pop":"thick","ch":-0.372,"cmg":-0.100,"czn":0.062,"cy":0.322},
{"pop":"thick","ch":-0.358,"cmg":-0.167,"czn":0.007,"cy":0.328},
{"pop":"thick","ch":-0.352,"cmg":-0.102,"czn":0.098,"cy":0.254},
{"pop":"thick","ch":-0.332,"cmg":0.027,"czn":0.184,"cy":0.395},
{"pop":"thick","ch":-0.329,"cmg":-0.106,"czn":0.066,"cy":0.254},
{"pop":"thick","ch":-0.323,"cmg":-0.120,"czn":0.010,"cy":0.298},
{"pop":"thick","ch":-0.317,"cmg":-0.083,"czn":0.098,"cy":0.304},
{"pop":"thick","ch":-0.311,"cmg":0.071,"czn":0.184,"cy":0.183},
{"pop":"thick","ch":-0.311,"cmg":-0.011,"czn":0.040,"cy":0.004},
{"pop":"thick","ch":-0.290,"cmg":0.098,"czn":0.118,"cy":-0.057},
{"pop":"thick","ch":-0.277,"cmg":0.021,"czn":0.066,"cy":0.313},
{"pop":"thick","ch":-0.268,"cmg":0.092,"czn":0.172,"cy":0.366},
{"pop":"thick","ch":-0.265,"cmg":-0.165,"czn":0.024,"cy":0.286},
{"pop":"thick","ch":-0.251,"cmg":-0.108,"czn":0.015,"cy":0.260},
{"pop":"thick","ch":-0.242,"cmg":-0.049,"czn":0.051,"cy":0.296},
{"pop":"thick","ch":-0.242,"cmg":-0.091,"czn":-0.014,"cy":0.325},
{"pop":"thick","ch":-0.237,"cmg":0.053,"czn":0.172,"cy":0.390},
{"pop":"thick","ch":-0.219,"cmg":-0.044,"czn":0.090,"cy":-0.066},
{"pop":"thick","ch":-0.216,"cmg":-0.073,"czn":0.039,"cy":0.230},
{"pop":"thick","ch":-0.213,"cmg":0.092,"czn":0.145,"cy":0.395},
{"pop":"thick","ch":-0.213,"cmg":-0.038,"czn":0.057,"cy":0.316},
{"pop":"thick","ch":-0.209,"cmg":-0.032,"czn":0.039,"cy":0.316},
{"pop":"thick","ch":-0.195,"cmg":-0.044,"czn":-0.014,"cy":0.106},
{"pop":"thick","ch":-0.184,"cmg":-0.014,"czn":-0.002,"cy":0.239},
{"pop":"thick","ch":-0.184,"cmg":-0.077,"czn":0.033,"cy":0.270},
{"pop":"thick","ch":-0.172,"cmg":-0.114,"czn":-0.014,"cy":0.260},
{"pop":"thick","ch":-0.167,"cmg":0.000,"czn":0.061,"cy":0.316},
{"pop":"thick","ch":-0.149,"cmg":0.157,"czn":0.259,"cy":0.336},
{"pop":"thick","ch":-0.149,"cmg":-0.012,"czn":0.061,"cy":0.302},
{"pop":"thick","ch":-0.149,"cmg":-0.059,"czn":0.020,"cy":-0.332},
{"pop":"thick","ch":-0.138,"cmg":-0.008,"czn":0.092,"cy":0.339},
{"pop":"thick","ch":-0.130,"cmg":0.061,"czn":0.104,"cy":0.378},
{"pop":"thick","ch":-0.124,"cmg":-0.045,"czn":0.006,"cy":-0.035},
{"pop":"thick","ch":-0.101,"cmg":-0.077,"czn":0.031,"cy":0.310},
{"pop":"thick","ch":-0.094,"cmg":-0.059,"czn":-0.026,"cy":0.251},
{"pop":"thick","ch":-0.083,"cmg":0.004,"czn":-0.005,"cy":0.280},
{"pop":"thick","ch":-0.022,"cmg":0.021,"czn":0.027,"cy":0.302},
{"pop":"high alpha","ch":-0.201,"cmg":-0.175,"czn":0.015,"cy":-0.133},
{"pop":"high alpha","ch":-0.118,"cmg":-0.087,"czn":-0.032,"cy":0.005},
{"pop":"high alpha","ch":-0.045,"cmg":-0.016,"czn":0.047,"cy":0.304},
{"pop":"high alpha","ch":-0.010,"cmg":-0.080,"czn":-0.055,"cy":0.137},
{"pop":"high alpha","ch":-0.005,"cmg":-0.034,"czn":-0.006,"cy":0.148},
{"pop":"high alpha","ch":0.003,"cmg":-0.006,"czn":0.033,"cy":0.207},
{"pop":"high alpha","ch":0.010,"cmg":-0.038,"czn":0.019,"cy":0.233},
{"pop":"high alpha","ch":0.024,"cmg":-0.059,"czn":-0.052,"cy":0.145},
{"pop":"high alpha","ch":0.048,"cmg":0.019,"czn":0.027,"cy":0.227},
{"pop":"high alpha","ch":0.053,"cmg":0.007,"czn":0.033,"cy":0.216},
{"pop":"high alpha","ch":0.051,"cmg":-0.038,"czn":0.065,"cy":0.198},
{"pop":"high alpha","ch":0.051,"cmg":-0.053,"czn":-0.028,"cy":0.183},
{"pop":"high alpha","ch":0.097,"cmg":-0.020,"czn":0.004,"cy":0.166},
{"pop":"high alpha","ch":0.111,"cmg":-0.024,"czn":0.004,"cy":0.198},
{"pop":"high alpha","ch":0.120,"cmg":-0.024,"czn":-0.008,"cy":0.165},
{"pop":"high alpha","ch":0.124,"cmg":0.033,"czn":0.118,"cy":0.217},
{"pop":"high alpha","ch":0.128,"cmg":0.019,"czn":0.033,"cy":0.180},
{"pop":"high alpha","ch":0.142,"cmg":-0.014,"czn":0.010,"cy":0.165},
{"pop":"high alpha","ch":0.135,"cmg":-0.052,"czn":-0.006,"cy":0.104},
{"pop":"high alpha","ch":0.142,"cmg":-0.057,"czn":-0.010,"cy":0.106},
{"pop":"high alpha","ch":0.155,"cmg":-0.091,"czn":-0.055,"cy":0.078},
{"pop":"high alpha","ch":0.163,"cmg":-0.024,"czn":-0.016,"cy":0.141},
{"pop":"high alpha","ch":0.186,"cmg":-0.055,"czn":0.021,"cy":0.163},
{"pop":"high alpha","ch":0.192,"cmg":-0.044,"czn":-0.055,"cy":0.138},
{"pop":"high alpha","ch":0.209,"cmg":-0.038,"czn":0.004,"cy":0.170},
{"pop":"high alpha","ch":0.205,"cmg":-0.094,"czn":-0.130,"cy":0.078},
{"pop":"high alpha","ch":0.245,"cmg":-0.011,"czn":-0.005,"cy":0.106},
{"pop":"high alpha","ch":0.245,"cmg":-0.064,"czn":-0.024,"cy":0.074},
{"pop":"high alpha","ch":0.285,"cmg":-0.020,"czn":0.088,"cy":0.224},
{"pop":"high alpha","ch":0.287,"cmg":-0.044,"czn":0.019,"cy":0.074},
{"pop":"high alpha","ch":0.287,"cmg":-0.049,"czn":-0.045,"cy":-0.002},
{"pop":"high alpha","ch":0.381,"cmg":0.012,"czn":0.039,"cy":0.139},
{"pop":"halo","ch":-0.941,"cmg":-0.141,"czn":0.098,"cy":0.192},
{"pop":"halo","ch":-0.641,"cmg":0.014,"czn":0.154,"cy":0.325},
{"pop":"halo","ch":-0.510,"cmg":-0.147,"czn":0.031,"cy":0.139},
{"pop":"halo","ch":-0.479,"cmg":-0.175,"czn":-0.021,"cy":0.088}
]},
"data":{"name":"stars"},
"spacing":0,
"bounds":"flush",
"resolve":{"scale":{"x":"independent","y":"independent","color":"independent","shape":"independent","size":"independent"},"axis":{"x":"independent","y":"independent"},"legend":{"color":"independent","shape":"independent","size":"independent"}},
"vconcat":[
{"width":534,"height":340,
"layer":[
{"mark":{"type":"point","filled":true,"opacity":1,"strokeWidth":0},
"encoding":{
"x":{"field":"ch","type":"quantitative","scale":{"domain":[-1.2,0.65],"nice":false,"zero":false},"axis":{"orient":"bottom","values":[-1,-0.5,0,0.5],"labels":false,"ticks":false,"domain":true,"title":null}},
"y":{"field":"cmg","type":"quantitative","scale":{"domain":[-0.7,0.5],"nice":false,"zero":false},"axis":{"orient":"left","values":[-0.6,-0.4,-0.2,0,0.2,0.4],"format":".1f","ticks":false,"tickSize":0,"labelPadding":7,"domain":true,"title":"[C/Mg]","titleX":-70,"titleY":170,"titleAngle":-90,"titleAlign":"center","titleBaseline":"middle"}},
"color":{"field":"pop","type":"nominal","scale":{"domain":["thin","thick","high alpha","halo"],"range":["#FFC200","#0A84FF","#FF0000","#560094"]},"legend":null},
"shape":{"field":"pop","type":"nominal","scale":{"domain":["thin","thick","high alpha","halo"],"range":["circle","triangle-up","square","diamond"]},"legend":null},
"size":{"field":"pop","type":"nominal","scale":{"type":"ordinal","domain":["thin","thick","high alpha","halo"],"range":[18,60,45,55]},"legend":null}}},
{"data":{"name":"zero"},"mark":{"type":"rule","color":"#000","strokeDash":[1.2,3.6],"strokeWidth":1.2},
"encoding":{"y":{"field":"v","type":"quantitative","scale":{"domain":[-0.7,0.5],"nice":false,"zero":false},"axis":{"orient":"left","values":[-0.6,-0.4,-0.2,0,0.2,0.4],"labels":false,"domain":false,"ticks":true,"tickSize":-10,"title":null}}}},
{"data":{"name":"zero"},"mark":{"type":"rule","color":"#000","strokeDash":[1.2,3.6],"strokeWidth":1.2},
"encoding":{"x":{"field":"v","type":"quantitative","scale":{"domain":[-1.2,0.65],"nice":false,"zero":false},"axis":{"orient":"bottom","values":[-1,-0.5,0,0.5],"labels":false,"domain":false,"ticks":true,"tickSize":-6,"title":null}}}},
{"data":{"name":"ebar"},"mark":{"type":"rule","color":"#000","strokeWidth":1.4},
"encoding":{"x":{"field":"ex","type":"quantitative","scale":{"domain":[-1.2,0.65],"nice":false,"zero":false},"axis":{"orient":"bottom","values":[-1.1,-0.9,-0.8,-0.7,-0.6,-0.4,-0.3,-0.2,-0.1,0.1,0.2,0.3,0.4,0.6],"labels":false,"domain":false,"ticks":true,"tickSize":-3,"title":null}},
"y":{"field":"ylo","type":"quantitative","scale":{"domain":[-0.7,0.5],"nice":false,"zero":false},"axis":{"orient":"left","values":[-0.65,-0.55,-0.5,-0.45,-0.35,-0.3,-0.25,-0.15,-0.1,-0.05,0.05,0.1,0.15,0.25,0.3,0.35,0.45],"labels":false,"domain":false,"ticks":true,"tickSize":-5,"title":null}},
"y2":{"field":"yhi"}}},
{"data":{"name":"ebar"},"mark":{"type":"rule","color":"#000","strokeWidth":1.4},
"encoding":{"x":{"field":"xlo","type":"quantitative","scale":{"domain":[-1.2,0.65],"nice":false,"zero":false},"axis":{"orient":"top","values":[-1,-0.5,0,0.5],"labels":false,"domain":true,"ticks":true,"tickSize":-6,"title":null}},
"x2":{"field":"xhi"},
"y":{"field":"ey","type":"quantitative","scale":{"domain":[-0.7,0.5],"nice":false,"zero":false},"axis":{"orient":"right","values":[-0.6,-0.4,-0.2,0,0.2,0.4],"labels":false,"domain":true,"ticks":true,"tickSize":-10,"title":null}}}},
{"data":{"name":"ebar"},"mark":{"type":"tick","orient":"horizontal","size":7,"thickness":1.4,"color":"#000"},
"encoding":{"x":{"field":"ex","type":"quantitative","scale":{"domain":[-1.2,0.65],"nice":false,"zero":false},"axis":{"orient":"top","values":[-1.1,-0.9,-0.8,-0.7,-0.6,-0.4,-0.3,-0.2,-0.1,0.1,0.2,0.3,0.4,0.6],"labels":false,"domain":false,"ticks":true,"tickSize":-3,"title":null}},
"y":{"field":"ylo","type":"quantitative","scale":{"domain":[-0.7,0.5],"nice":false,"zero":false},"axis":{"orient":"right","values":[-0.65,-0.55,-0.5,-0.45,-0.35,-0.3,-0.25,-0.15,-0.1,-0.05,0.05,0.1,0.15,0.25,0.3,0.35,0.45],"labels":false,"domain":false,"ticks":true,"tickSize":-5,"title":null}}}},
{"data":{"name":"ebar"},"mark":{"type":"tick","orient":"horizontal","size":7,"thickness":1.4,"color":"#000"},
"encoding":{"x":{"field":"ex","type":"quantitative","scale":{"domain":[-1.2,0.65],"nice":false,"zero":false},"axis":null},
"y":{"field":"yhi","type":"quantitative","scale":{"domain":[-0.7,0.5],"nice":false,"zero":false},"axis":null}}},
{"data":{"name":"ebar"},"mark":{"type":"tick","orient":"vertical","size":7,"thickness":1.4,"color":"#000"},
"encoding":{"x":{"field":"xlo","type":"quantitative","scale":{"domain":[-1.2,0.65],"nice":false,"zero":false},"axis":null},
"y":{"field":"ey","type":"quantitative","scale":{"domain":[-0.7,0.5],"nice":false,"zero":false},"axis":null}}},
{"data":{"name":"ebar"},"mark":{"type":"tick","orient":"vertical","size":7,"thickness":1.4,"color":"#000"},
"encoding":{"x":{"field":"xhi","type":"quantitative","scale":{"domain":[-1.2,0.65],"nice":false,"zero":false},"axis":null},
"y":{"field":"ey","type":"quantitative","scale":{"domain":[-0.7,0.5],"nice":false,"zero":false},"axis":null}}}
],
"resolve":{"axis":{"x":"independent","y":"independent"}}},
{"width":534,"height":340,
"layer":[
{"mark":{"type":"point","filled":true,"opacity":1,"strokeWidth":0},
"encoding":{
"x":{"field":"ch","type":"quantitative","scale":{"domain":[-1.2,0.65],"nice":false,"zero":false},"axis":{"orient":"bottom","values":[-1,-0.5,0,0.5],"labels":false,"ticks":false,"domain":true,"title":null}},
"y":{"field":"czn","type":"quantitative","scale":{"domain":[-0.7,0.5],"nice":false,"zero":false},"axis":{"orient":"left","values":[-0.6,-0.4,-0.2,0,0.2,0.4],"format":".1f","ticks":false,"tickSize":0,"labelPadding":7,"domain":true,"title":"[C/Zn]","titleX":-70,"titleY":170,"titleAngle":-90,"titleAlign":"center","titleBaseline":"middle"}},
"color":{"field":"pop","type":"nominal","scale":{"domain":["thin","thick","high alpha","halo"],"range":["#FFC200","#0A84FF","#FF0000","#560094"]},"legend":null},
"shape":{"field":"pop","type":"nominal","scale":{"domain":["thin","thick","high alpha","halo"],"range":["circle","triangle-up","square","diamond"]},"legend":null},
"size":{"field":"pop","type":"nominal","scale":{"type":"ordinal","domain":["thin","thick","high alpha","halo"],"range":[18,60,45,55]},"legend":null}}},
{"data":{"name":"zero"},"mark":{"type":"rule","color":"#000","strokeDash":[1.2,3.6],"strokeWidth":1.2},
"encoding":{"y":{"field":"v","type":"quantitative","scale":{"domain":[-0.7,0.5],"nice":false,"zero":false},"axis":{"orient":"left","values":[-0.6,-0.4,-0.2,0,0.2,0.4],"labels":false,"domain":false,"ticks":true,"tickSize":-10,"title":null}}}},
{"data":{"name":"zero"},"mark":{"type":"rule","color":"#000","strokeDash":[1.2,3.6],"strokeWidth":1.2},
"encoding":{"x":{"field":"v","type":"quantitative","scale":{"domain":[-1.2,0.65],"nice":false,"zero":false},"axis":{"orient":"bottom","values":[-1,-0.5,0,0.5],"labels":false,"domain":false,"ticks":true,"tickSize":-6,"title":null}}}},
{"data":{"name":"ebar"},"mark":{"type":"rule","color":"#000","strokeWidth":1.4},
"encoding":{"x":{"field":"ex","type":"quantitative","scale":{"domain":[-1.2,0.65],"nice":false,"zero":false},"axis":{"orient":"bottom","values":[-1.1,-0.9,-0.8,-0.7,-0.6,-0.4,-0.3,-0.2,-0.1,0.1,0.2,0.3,0.4,0.6],"labels":false,"domain":false,"ticks":true,"tickSize":-3,"title":null}},
"y":{"field":"ylo","type":"quantitative","scale":{"domain":[-0.7,0.5],"nice":false,"zero":false},"axis":{"orient":"left","values":[-0.65,-0.55,-0.5,-0.45,-0.35,-0.3,-0.25,-0.15,-0.1,-0.05,0.05,0.1,0.15,0.25,0.3,0.35,0.45],"labels":false,"domain":false,"ticks":true,"tickSize":-5,"title":null}},
"y2":{"field":"yhi"}}},
{"data":{"name":"ebar"},"mark":{"type":"rule","color":"#000","strokeWidth":1.4},
"encoding":{"x":{"field":"xlo","type":"quantitative","scale":{"domain":[-1.2,0.65],"nice":false,"zero":false},"axis":{"orient":"top","values":[-1,-0.5,0,0.5],"labels":false,"domain":true,"ticks":true,"tickSize":-6,"title":null}},
"x2":{"field":"xhi"},
"y":{"field":"ey","type":"quantitative","scale":{"domain":[-0.7,0.5],"nice":false,"zero":false},"axis":{"orient":"right","values":[-0.6,-0.4,-0.2,0,0.2,0.4],"labels":false,"domain":true,"ticks":true,"tickSize":-10,"title":null}}}},
{"data":{"name":"ebar"},"mark":{"type":"tick","orient":"horizontal","size":7,"thickness":1.4,"color":"#000"},
"encoding":{"x":{"field":"ex","type":"quantitative","scale":{"domain":[-1.2,0.65],"nice":false,"zero":false},"axis":{"orient":"top","values":[-1.1,-0.9,-0.8,-0.7,-0.6,-0.4,-0.3,-0.2,-0.1,0.1,0.2,0.3,0.4,0.6],"labels":false,"domain":false,"ticks":true,"tickSize":-3,"title":null}},
"y":{"field":"ylo","type":"quantitative","scale":{"domain":[-0.7,0.5],"nice":false,"zero":false},"axis":{"orient":"right","values":[-0.65,-0.55,-0.5,-0.45,-0.35,-0.3,-0.25,-0.15,-0.1,-0.05,0.05,0.1,0.15,0.25,0.3,0.35,0.45],"labels":false,"domain":false,"ticks":true,"tickSize":-5,"title":null}}}},
{"data":{"name":"ebar"},"mark":{"type":"tick","orient":"horizontal","size":7,"thickness":1.4,"color":"#000"},
"encoding":{"x":{"field":"ex","type":"quantitative","scale":{"domain":[-1.2,0.65],"nice":false,"zero":false},"axis":null},
"y":{"field":"yhi","type":"quantitative","scale":{"domain":[-0.7,0.5],"nice":false,"zero":false},"axis":null}}},
{"data":{"name":"ebar"},"mark":{"type":"tick","orient":"vertical","size":7,"thickness":1.4,"color":"#000"},
"encoding":{"x":{"field":"xlo","type":"quantitative","scale":{"domain":[-1.2,0.65],"nice":false,"zero":false},"axis":null},
"y":{"field":"ey","type":"quantitative","scale":{"domain":[-0.7,0.5],"nice":false,"zero":false},"axis":null}}},
{"data":{"name":"ebar"},"mark":{"type":"tick","orient":"vertical","size":7,"thickness":1.4,"color":"#000"},
"encoding":{"x":{"field":"xhi","type":"quantitative","scale":{"domain":[-1.2,0.65],"nice":false,"zero":false},"axis":null},
"y":{"field":"ey","type":"quantitative","scale":{"domain":[-0.7,0.5],"nice":false,"zero":false},"axis":null}}}
],
"resolve":{"axis":{"x":"independent","y":"independent"}}},
{"width":534,"height":340,
"layer":[
{"mark":{"type":"point","filled":true,"opacity":1,"strokeWidth":0},
"encoding":{
"x":{"field":"ch","type":"quantitative","scale":{"domain":[-1.2,0.65],"nice":false,"zero":false},"axis":{"orient":"bottom","values":[-1,-0.5,0,0.5],"format":".1f","labels":true,"ticks":false,"tickSize":0,"labelPadding":13,"domain":true,"title":"[C/H]","titleX":267,"titleY":42,"titleAlign":"center","titleBaseline":"middle"}},
"y":{"field":"cy","type":"quantitative","scale":{"domain":[-0.7,0.5],"nice":false,"zero":false},"axis":{"orient":"left","values":[-0.6,-0.4,-0.2,0,0.2,0.4],"format":".1f","ticks":false,"tickSize":0,"labelPadding":7,"domain":true,"title":"[C/Y]","titleX":-70,"titleY":170,"titleAngle":-90,"titleAlign":"center","titleBaseline":"middle"}},
"color":{"field":"pop","type":"nominal","title":null,"scale":{"domain":["thin","thick","high alpha","halo"],"range":["#FFC200","#0A84FF","#FF0000","#560094"]},"legend":{"orient":"none","legendX":398,"legendY":235,"title":null,"strokeColor":"#000","fillColor":"#fff","padding":8,"labelAlign":"right","labelOffset":-23,"symbolOffset":92,"labelFontSize":16,"labelFont":"DejaVu Sans","labelColor":"#000","rowPadding":2.5,"symbolStrokeWidth":0}},
"shape":{"field":"pop","type":"nominal","title":null,"scale":{"domain":["thin","thick","high alpha","halo"],"range":["circle","triangle-up","square","diamond"]},"legend":{"orient":"none","legendX":398,"legendY":235,"title":null,"strokeColor":"#000","fillColor":"#fff","padding":8,"labelAlign":"right","labelOffset":-23,"symbolOffset":92,"labelFontSize":16,"labelFont":"DejaVu Sans","labelColor":"#000","rowPadding":2.5,"symbolStrokeWidth":0}},
"size":{"field":"pop","type":"nominal","title":null,"scale":{"type":"ordinal","domain":["thin","thick","high alpha","halo"],"range":[18,60,45,55]},"legend":{"orient":"none","legendX":398,"legendY":235,"title":null,"strokeColor":"#000","fillColor":"#fff","padding":8,"labelAlign":"right","labelOffset":-23,"symbolOffset":92,"labelFontSize":16,"labelFont":"DejaVu Sans","labelColor":"#000","rowPadding":2.5,"symbolStrokeWidth":0}}}},
{"data":{"name":"zero"},"mark":{"type":"rule","color":"#000","strokeDash":[1.2,3.6],"strokeWidth":1.2},
"encoding":{"y":{"field":"v","type":"quantitative","scale":{"domain":[-0.7,0.5],"nice":false,"zero":false},"axis":{"orient":"left","values":[-0.6,-0.4,-0.2,0,0.2,0.4],"labels":false,"domain":false,"ticks":true,"tickSize":-10,"title":null}}}},
{"data":{"name":"zero"},"mark":{"type":"rule","color":"#000","strokeDash":[1.2,3.6],"strokeWidth":1.2},
"encoding":{"x":{"field":"v","type":"quantitative","scale":{"domain":[-1.2,0.65],"nice":false,"zero":false},"axis":{"orient":"bottom","values":[-1,-0.5,0,0.5],"labels":false,"domain":false,"ticks":true,"tickSize":-6,"title":null}}}},
{"data":{"name":"ebar"},"mark":{"type":"rule","color":"#000","strokeWidth":1.4},
"encoding":{"x":{"field":"ex","type":"quantitative","scale":{"domain":[-1.2,0.65],"nice":false,"zero":false},"axis":{"orient":"bottom","values":[-1.1,-0.9,-0.8,-0.7,-0.6,-0.4,-0.3,-0.2,-0.1,0.1,0.2,0.3,0.4,0.6],"labels":false,"domain":false,"ticks":true,"tickSize":-3,"title":null}},
"y":{"field":"ylo","type":"quantitative","scale":{"domain":[-0.7,0.5],"nice":false,"zero":false},"axis":{"orient":"left","values":[-0.65,-0.55,-0.5,-0.45,-0.35,-0.3,-0.25,-0.15,-0.1,-0.05,0.05,0.1,0.15,0.25,0.3,0.35,0.45],"labels":false,"domain":false,"ticks":true,"tickSize":-5,"title":null}},
"y2":{"field":"yhi"}}},
{"data":{"name":"ebar"},"mark":{"type":"rule","color":"#000","strokeWidth":1.4},
"encoding":{"x":{"field":"xlo","type":"quantitative","scale":{"domain":[-1.2,0.65],"nice":false,"zero":false},"axis":{"orient":"top","values":[-1,-0.5,0,0.5],"labels":false,"domain":true,"ticks":true,"tickSize":-6,"title":null}},
"x2":{"field":"xhi"},
"y":{"field":"ey","type":"quantitative","scale":{"domain":[-0.7,0.5],"nice":false,"zero":false},"axis":{"orient":"right","values":[-0.6,-0.4,-0.2,0,0.2,0.4],"labels":false,"domain":true,"ticks":true,"tickSize":-10,"title":null}}}},
{"data":{"name":"ebar"},"mark":{"type":"tick","orient":"horizontal","size":7,"thickness":1.4,"color":"#000"},
"encoding":{"x":{"field":"ex","type":"quantitative","scale":{"domain":[-1.2,0.65],"nice":false,"zero":false},"axis":{"orient":"top","values":[-1.1,-0.9,-0.8,-0.7,-0.6,-0.4,-0.3,-0.2,-0.1,0.1,0.2,0.3,0.4,0.6],"labels":false,"domain":false,"ticks":true,"tickSize":-3,"title":null}},
"y":{"field":"ylo","type":"quantitative","scale":{"domain":[-0.7,0.5],"nice":false,"zero":false},"axis":{"orient":"right","values":[-0.65,-0.55,-0.5,-0.45,-0.35,-0.3,-0.25,-0.15,-0.1,-0.05,0.05,0.1,0.15,0.25,0.3,0.35,0.45],"labels":false,"domain":false,"ticks":true,"tickSize":-5,"title":null}}}},
{"data":{"name":"ebar"},"mark":{"type":"tick","orient":"horizontal","size":7,"thickness":1.4,"color":"#000"},
"encoding":{"x":{"field":"ex","type":"quantitative","scale":{"domain":[-1.2,0.65],"nice":false,"zero":false},"axis":null},
"y":{"field":"yhi","type":"quantitative","scale":{"domain":[-0.7,0.5],"nice":false,"zero":false},"axis":null}}},
{"data":{"name":"ebar"},"mark":{"type":"tick","orient":"vertical","size":7,"thickness":1.4,"color":"#000"},
"encoding":{"x":{"field":"xlo","type":"quantitative","scale":{"domain":[-1.2,0.65],"nice":false,"zero":false},"axis":null},
"y":{"field":"ey","type":"quantitative","scale":{"domain":[-0.7,0.5],"nice":false,"zero":false},"axis":null}}},
{"data":{"name":"ebar"},"mark":{"type":"tick","orient":"vertical","size":7,"thickness":1.4,"color":"#000"},
"encoding":{"x":{"field":"xhi","type":"quantitative","scale":{"domain":[-1.2,0.65],"nice":false,"zero":false},"axis":null},
"y":{"field":"ey","type":"quantitative","scale":{"domain":[-0.7,0.5],"nice":false,"zero":false},"axis":null}}}
],
"resolve":{"axis":{"x":"independent","y":"independent"}}}
],
"config":{
"view":{"stroke":null},
"font":"DejaVu Sans",
"axis":{"grid":false,"domainColor":"#000","domainWidth":1.3,"tickColor":"#000","tickWidth":1.2,"labelColor":"#000","labelFont":"DejaVu Sans","labelFontSize":15,"titleColor":"#000","titleFont":"DejaVu Sans","titleFontSize":16,"titleFontWeight":"normal","labelFlush":false,"labelOverlap":false},
"legend":{"labelFont":"DejaVu Sans"}
}
}
